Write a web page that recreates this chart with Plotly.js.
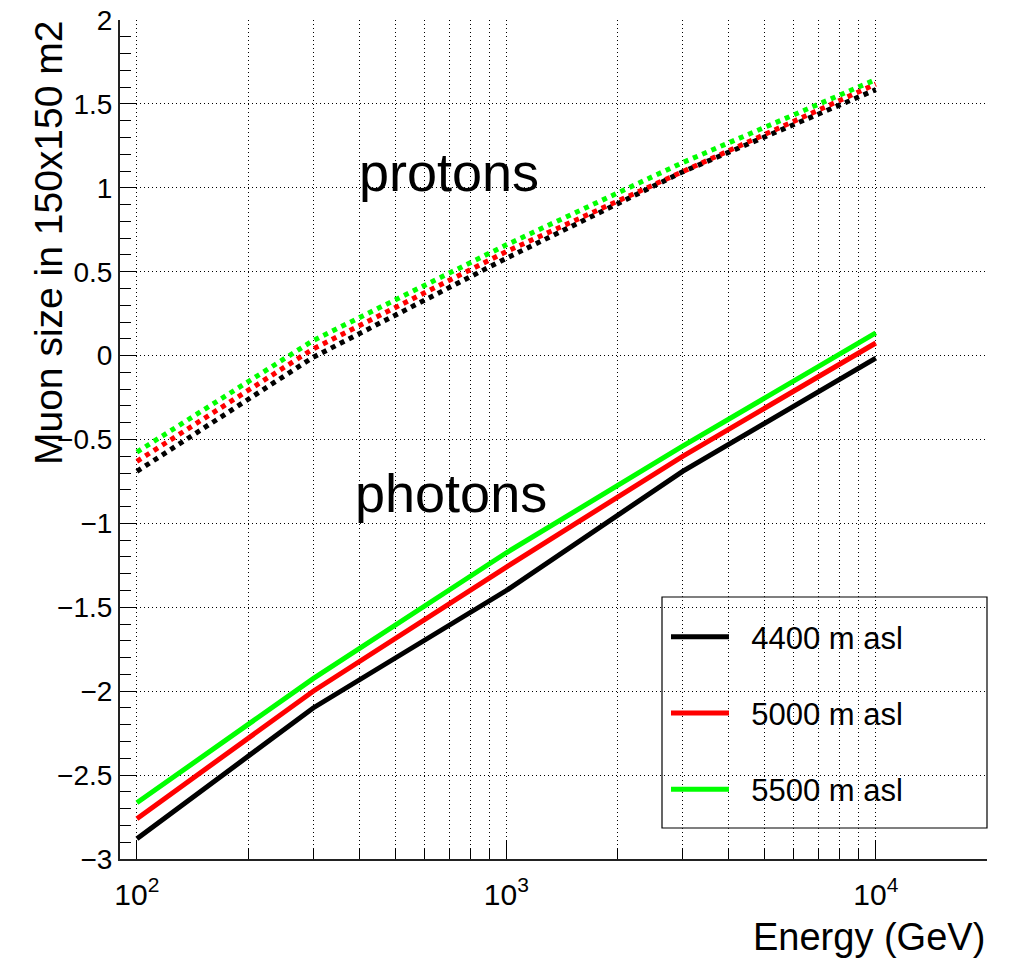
<!DOCTYPE html>
<html>
<head>
<meta charset="utf-8">
<script src="https://cdn.plot.ly/plotly-3.0.1.min.js"></script>
<style>html,body{margin:0;padding:0;background:#fff;}#chart{width:1011px;height:958px;}</style>
</head>
<body>
<div id="chart"></div>
<script>
// Energy (GeV)
const energy = [100, 300, 1000, 3000, 10000];
// photons (solid)
const photons4400 = [-2.88, -2.10, -1.40, -0.69, -0.015];
const photons5000 = [-2.76, -2.00, -1.26, -0.60, 0.075];
const photons5500 = [-2.665, -1.925, -1.175, -0.54, 0.135];
// protons (dotted)
const protons4400 = [-0.69, -0.01, 0.58, 1.095, 1.585];
const protons5000 = [-0.63, 0.04, 0.62, 1.10, 1.618];
const protons5500 = [-0.575, 0.09, 0.66, 1.15, 1.645];

const seriesNames = ['4400 m asl', '5000 m asl', '5500 m asl'];
const seriesColors = ['#000000', '#ff0000', '#00ff00'];

const xMajor = [100, 1000, 10000];
const xMajorText = ['10<sup>2</sup>', '10<sup>3</sup>', '10<sup>4</sup>'];
const xMinor = [200,300,400,500,600,700,800,900,2000,3000,4000,5000,6000,7000,8000,9000,20000];

const FONT = 'Liberation Sans, Arial, Helvetica, sans-serif';
const photonSets = [photons4400, photons5000, photons5500];
const protonSets = [protons4400, protons5000, protons5500];

const traces = [];
protonSets.forEach((ys, i) => {
  traces.push({
    x: energy, y: ys, type: 'scatter', mode: 'lines',
    line: {color: seriesColors[i], width: 5, dash: 'dot'},
    showlegend: false, hoverinfo: 'skip'
  });
});
photonSets.forEach((ys, i) => {
  traces.push({
    x: energy, y: ys, type: 'scatter', mode: 'lines',
    name: '\u00a0\u00a0' + seriesNames[i], legendgroup: 'g' + i,
    line: {color: seriesColors[i], width: 5},
    showlegend: true
  });
});

const W = 1011, H = 958, L = 120, R = 24, T = 20, B = 99;
const pw = W - L - R, ph = H - T - B;
const px2paper = px => (px - L) / pw;
const py2paper = py => (H - B - py) / ph;

const layout = {
  width: W, height: H,
  margin: {l: L, r: R, t: T, b: B},
  paper_bgcolor: '#ffffff', plot_bgcolor: '#ffffff',
  font: {family: FONT, color: '#000', size: 28},
  showlegend: true,
  legend: {
    x: px2paper(666), y: py2paper(610), xanchor: 'left', yanchor: 'top',
    bgcolor: 'rgba(0,0,0,0)', borderwidth: 0,
    font: {family: FONT, size: 31, color: '#000'},
    tracegroupgap: 33, itemwidth: 58
  },
  xaxis: {
    type: 'log',
    range: [Math.log10(90), Math.log10(20000)],
    tickmode: 'array', tickvals: xMajor, ticktext: xMajorText,
    ticks: 'inside', ticklen: 18, tickwidth: 1, tickcolor: '#000',
    ticklabelstandoff: 8,
    showgrid: true, gridcolor: '#000', gridwidth: 1, griddash: '1px,3px',
    minor: {tickmode: 'array', tickvals: xMinor, ticks: 'inside', ticklen: 11, tickwidth: 1, tickcolor: '#000',
            showgrid: true, gridcolor: '#000', gridwidth: 1, griddash: '1px,3px'},
    showline: true, linecolor: '#222', linewidth: 2, mirror: false,
    zeroline: false,
    tickfont: {family: FONT, size: 30, color: '#000'},
    automargin: false
  },
  yaxis: {
    range: [-3, 2],
    tickmode: 'linear', tick0: 0, dtick: 0.5,
    ticks: 'inside', ticklen: 17, tickwidth: 1, tickcolor: '#000',
    showgrid: true, gridcolor: '#000', gridwidth: 1, griddash: '1px,3px',
    minor: {dtick: 0.1, tick0: 0, ticks: 'inside', ticklen: 11, tickwidth: 1, tickcolor: '#000', showgrid: false},
    showline: true, linecolor: '#222', linewidth: 2, mirror: false,
    zeroline: false,
    tickfont: {family: FONT, size: 28, color: '#000'},
    automargin: false
  },
  shapes: [
    {type: 'rect', xref: 'paper', yref: 'paper',
     x0: px2paper(662), x1: px2paper(987), y0: py2paper(828), y1: py2paper(597),
     line: {color: '#000', width: 1.2}, fillcolor: '#ffffff', layer: 'below'}
  ],
  annotations: [
    {text: 'Muon size in 150x150 m2', xref: 'paper', yref: 'paper',
     x: px2paper(48), y: py2paper(243), xanchor: 'center', yanchor: 'middle',
     textangle: -90, showarrow: false, font: {family: FONT, size: 39, color: '#000'}},
    {text: 'Energy (GeV)', xref: 'paper', yref: 'paper',
     x: 1, y: py2paper(937), xanchor: 'right', yanchor: 'middle',
     showarrow: false, font: {family: FONT, size: 38, color: '#000'}},
    {text: 'protons', xref: 'paper', yref: 'paper',
     x: px2paper(449), y: py2paper(172), xanchor: 'center', yanchor: 'middle',
     showarrow: false, font: {family: FONT, size: 54, color: '#000'}},
    {text: 'photons', xref: 'paper', yref: 'paper',
     x: px2paper(451), y: py2paper(493), xanchor: 'center', yanchor: 'middle',
     showarrow: false, font: {family: FONT, size: 54, color: '#000'}}
  ]
};

Plotly.newPlot('chart', traces, layout, {displayModeBar: false, staticPlot: true});
</script>
</body>
</html>
